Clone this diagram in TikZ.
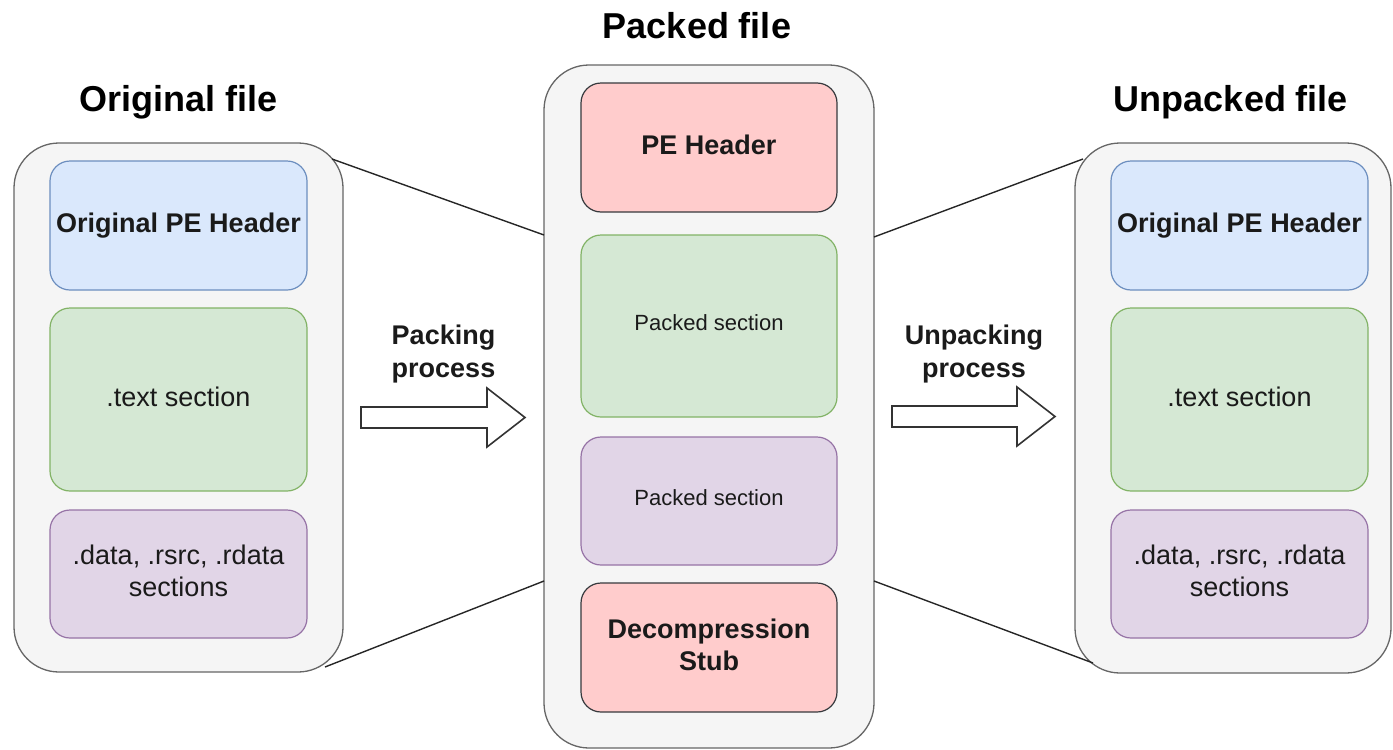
\documentclass[tikz,border=0pt]{standalone}
\usepackage{fontspec}
\setmainfont{Liberation Sans}
\usetikzlibrary{calc}
\definecolor{contfill}{HTML}{F5F5F5}
\definecolor{contline}{HTML}{666666}
\definecolor{bluefill}{HTML}{DAE8FC}
\definecolor{blueline}{HTML}{6C8EBF}
\definecolor{greenfill}{HTML}{D5E8D4}
\definecolor{greenline}{HTML}{82B366}
\definecolor{purplefill}{HTML}{E1D5E7}
\definecolor{purpleline}{HTML}{9673A6}
\definecolor{redfill}{HTML}{FFCCCC}
\definecolor{redline}{HTML}{36393D}
\definecolor{txt}{HTML}{1A1A1A}
\definecolor{arrowline}{HTML}{333333}
\begin{document}
\begin{tikzpicture}[x=1pt,y=-1pt,
  base/.style={inner sep=0pt, outer sep=0pt, anchor=north west, align=center, text=txt},
  container/.style={base, draw=contline, fill=contfill, line width=1.3pt, rounded corners=45pt},
  sect/.style={base, line width=1.2pt, rounded corners=20pt},
  bluebox/.style={sect, draw=blueline, fill=bluefill},
  greenbox/.style={sect, draw=greenline, fill=greenfill, text depth=6pt},
  purplebox/.style={sect, draw=purpleline, fill=purplefill, text depth=6pt},
  redbox/.style={sect, draw=redline, fill=redfill, text depth=6pt},
  bigtxt/.style={font=\fontsize{27}{32.4}\selectfont},
  boldtxt/.style={font=\fontsize{27}{32.4}\selectfont\bfseries},
  smalltxt/.style={font=\fontsize{22}{26.4}\selectfont},
  titletxt/.style={anchor=base, inner sep=0pt, text=black, font=\fontsize{36}{43}\selectfont\bfseries},
  blockarrow/.style={draw=arrowline, fill=white, line width=1.6pt, line join=miter},
  link/.style={draw=black!85, line width=1.4pt}
]
\useasboundingbox (0,0) rectangle (1393,750);

% titles
\node[titletxt] (TL) at (178.5,111) {Original file};
\node[titletxt] (TM) at (697,38) {Packed file};
\node[titletxt] (TR) at (1231,111) {Unpacked file};

% left container
\node[container, minimum width=329pt, minimum height=529pt] (L) at (14,143) {};
\node[bluebox, boldtxt, minimum width=257pt, minimum height=129pt] (L1) at (50,161) {Original PE Header};
\node[greenbox, bigtxt, minimum width=257pt, minimum height=183pt] (L2) at (50,308) {.text section};
\node[purplebox, bigtxt, minimum width=257pt, minimum height=128pt] (L3) at (50,510) {.data, .rsrc, .rdata\\sections};

% middle container
\node[container, minimum width=330pt, minimum height=683pt] (M) at (544,65) {};
\node[redbox, boldtxt, minimum width=256pt, minimum height=129pt] (M1) at (581,83) {PE Header};
\node[greenbox, smalltxt, minimum width=256pt, minimum height=182pt] (M2) at (581,235) {Packed section};
\node[purplebox, smalltxt, minimum width=256pt, minimum height=128pt] (M3) at (581,437) {Packed section};
\node[redbox, boldtxt, minimum width=256pt, minimum height=129pt] (M4) at (581,583) {Decompression\\Stub};

% right container
\node[container, minimum width=316pt, minimum height=530pt] (R) at (1075,143) {};
\node[bluebox, boldtxt, minimum width=257pt, minimum height=129pt] (R1) at (1111,161) {Original PE Header};
\node[greenbox, bigtxt, minimum width=257pt, minimum height=183pt] (R2) at (1111,308) {.text section};
\node[purplebox, bigtxt, minimum width=257pt, minimum height=128pt] (R3) at (1111,510) {.data, .rsrc, .rdata\\sections};

% connector end points
\coordinate (Ltop) at ($(L.north east)+(-11,16)$);
\coordinate (Lbot) at ($(L.south east)+(-18,-5)$);
\coordinate (MLtop) at ($(M.north west)+(0,170)$);
\coordinate (MLbot) at ($(M.north west)+(0,516)$);
\coordinate (MRtop) at ($(M.north east)+(0,172)$);
\coordinate (MRbot) at ($(M.north east)+(0,516)$);
\coordinate (Rtop) at ($(R.north west)+(8,16)$);
\coordinate (Rbot) at ($(R.south west)+(18,-10)$);

\draw[link] (Ltop) -- (MLtop);
\draw[link] (Lbot) -- (MLbot);
\draw[link] (MRtop) -- (Rtop);
\draw[link] (MRbot) -- (Rbot);

% process labels
\node[boldtxt, align=center, inner sep=0pt, text=txt] (PL) at (443.5,354) {Packing\\process};
\node[boldtxt, align=center, inner sep=0pt, text=txt] (UL) at (974,354) {Unpacking\\process};

% block arrows
\draw[blockarrow] (361,407) -- (487,407) -- (487,388) -- (525,417.5) -- (487,447) -- (487,428) -- (361,428) -- cycle;
\draw[blockarrow] (892,406) -- (1017,406) -- (1017,387) -- (1055,416.5) -- (1017,446) -- (1017,427) -- (892,427) -- cycle;
\end{tikzpicture}
\end{document}
